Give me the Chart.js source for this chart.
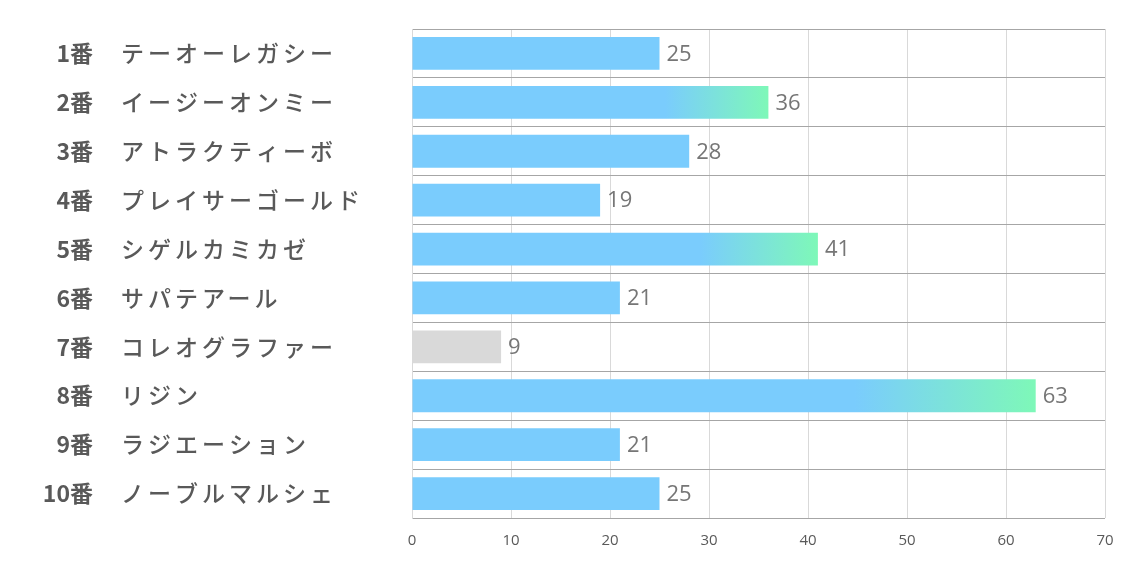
<!DOCTYPE html>
<html>
<head>
<meta charset="utf-8">
<script src="https://cdn.jsdelivr.net/npm/chart.js@4"></script>
<style>
  html, body { margin: 0; padding: 0; background: #fff; }
  #wrap { width: 1134px; height: 567px; }
</style>
</head>
<body>
<div id="wrap"><canvas id="myChart" width="1134" height="567"></canvas></div>
<script>
var horseNumbers = ['1番', '2番', '3番', '4番', '5番', '6番', '7番', '8番', '9番', '10番'];
var horseNames = ['テーオーレガシー', 'イージーオンミー', 'アトラクティーボ', 'プレイサーゴールド', 'シゲルカミカゼ',
  'サパテアール', 'コレオグラファー', 'リジン', 'ラジエーション', 'ノーブルマルシェ'];
var points = [25, 36, 28, 19, 41, 21, 9, 63, 21, 25];
var xTicks = [0, 10, 20, 30, 40, 50, 60, 70];

const BLUE = '#7accfd';
const GREEN = '#7ef8b8';
const GRAY = '#d9d9d9';

// top 3 get a gradient, the lowest gets gray
var sorted = points.slice().sort(function (a, b) { return b - a; });
var top3 = sorted[2];
var lowest = sorted[sorted.length - 1];

function barColor(context) {
  var v = points[context.dataIndex];
  if (v === lowest) return GRAY;
  if (v < top3) return BLUE;
  var chart = context.chart;
  if (!chart.chartArea) return BLUE;
  var x = chart.scales.x;
  var x0 = x.getPixelForValue(0);
  var x1 = x.getPixelForValue(v);
  var g = chart.ctx.createLinearGradient(x0, 0, x1, 0);
  g.addColorStop(0, BLUE);
  g.addColorStop(0.71, BLUE);
  g.addColorStop(1, GREEN);
  return g;
}

const labelPlugin = {
  id: 'labelPlugin',
  afterDraw: function (chart) {
    var ctx = chart.ctx;
    var x = chart.scales.x;
    var y = chart.scales.y;
    ctx.save();
    ctx.textBaseline = 'middle';
    for (let i = 0; i < points.length; i++) {
      let py = y.getPixelForValue(i);
      // left labels
      ctx.fillStyle = '#595959';
      ctx.textAlign = 'right';
      ctx.font = 'bold 23px "Noto Sans CJK JP"';
      ctx.letterSpacing = '0px';
      ctx.fillText(horseNumbers[i], 93, py);
      ctx.textAlign = 'left';
      ctx.font = '500 23px "Noto Sans CJK JP"';
      ctx.letterSpacing = '4px';
      ctx.fillText(horseNames[i], 121, py);
      // value labels
      ctx.letterSpacing = '0px';
      ctx.fillStyle = '#767676';
      ctx.font = '22px "Open Sans"';
      ctx.fillText(String(points[i]), x.getPixelForValue(points[i]) + 7, py + 1);
    }
    ctx.restore();
  }
};

new Chart(document.getElementById('myChart'), {
  type: 'bar',
  data: {
    labels: horseNames,
    datasets: [
      {
        data: points,
        backgroundColor: barColor,
        borderWidth: 0,
        barPercentage: 0.67,
        categoryPercentage: 1,
      },
    ],
  },
  options: {
    indexAxis: 'y',
    responsive: false,
    animation: false,
    layout: { padding: { top: 29, right: 29, left: 0, bottom: 0 } },
    plugins: {
      legend: { display: false },
      tooltip: { enabled: false },
    },
    scales: {
      x: {
        min: 0,
        max: 70,
        afterBuildTicks: function (scale) {
          scale.ticks = xTicks.map(function (v) { return { value: v }; });
        },
        afterFit: function (scale) { scale.height = 49; },
        grid: { color: '#d9d9d9', drawTicks: false },
        border: { display: false },
        ticks: {
          padding: 14,
          color: '#595959',
          font: { family: 'Open Sans', size: 15 },
        },
      },
      y: {
        afterFit: function (scale) { scale.width = 412; },
        grid: { color: '#a6a6a6', drawTicks: false, offset: true },
        border: { display: true, color: '#d9d9d9' },
        ticks: { display: false },
      },
    },
  },
  plugins: [labelPlugin],
});
</script>
</body>
</html>
